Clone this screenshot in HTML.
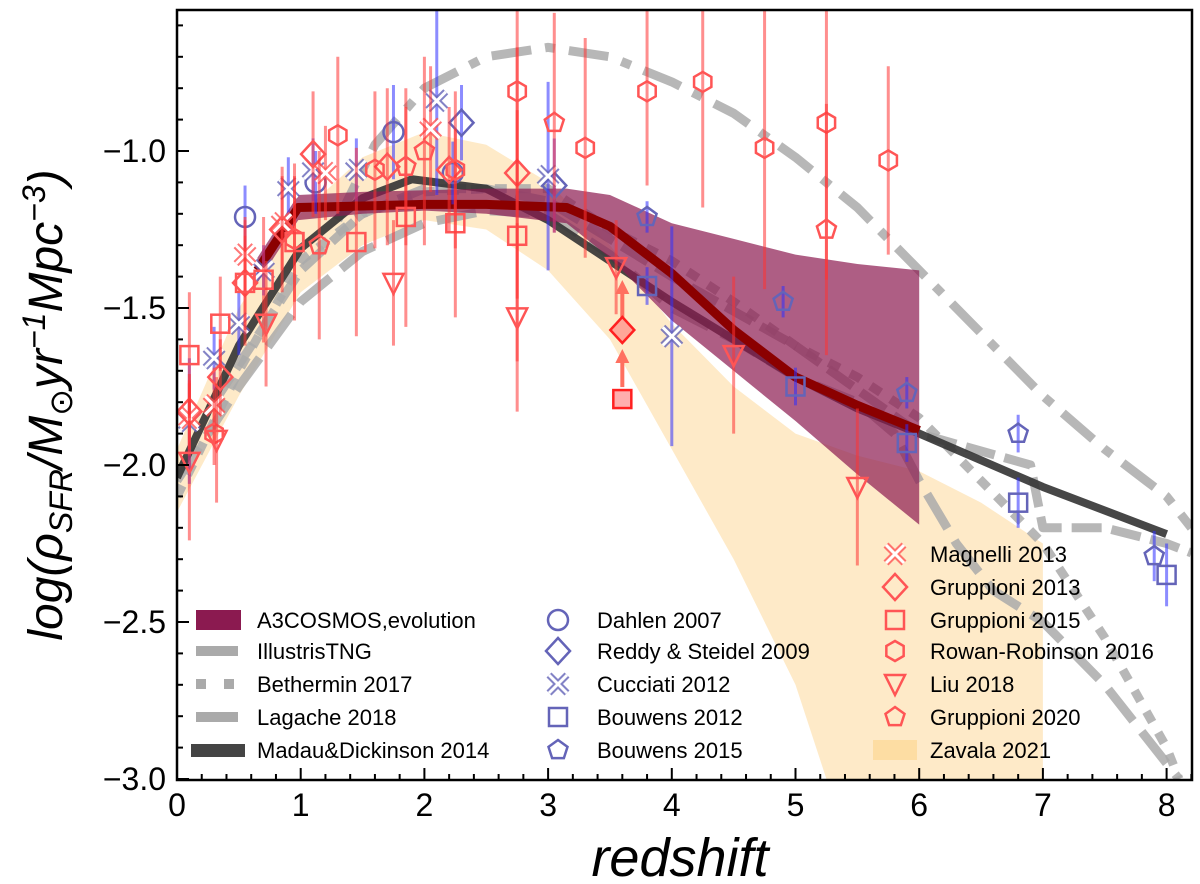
<!DOCTYPE html>
<html><head><meta charset="utf-8"><style>
body{margin:0;background:#fff;width:1200px;height:884px;overflow:hidden}
svg{display:block;font-family:"Liberation Sans","DejaVu Sans",sans-serif}
</style></head><body>
<svg id="c" width="1200" height="884"></svg>
<script>
// ---- data ----
const xTicks=[0,1,2,3,4,5,6,7,8];
const yTicks=[-1.0,-1.5,-2.0,-2.5,-3.0];
const a3Z=[0.65,0.98,1.5,2,2.5,3.15,3.5,4,4.5,5,5.5,6];
const a3V=[-1.38,-1.18,-1.175,-1.17,-1.17,-1.18,-1.24,-1.39,-1.57,-1.72,-1.81,-1.89];
const a3Up=[-1.34,-1.14,-1.13,-1.125,-1.12,-1.12,-1.14,-1.23,-1.28,-1.33,-1.36,-1.38];
const a3Lo=[-1.42,-1.22,-1.2,-1.19,-1.2,-1.23,-1.34,-1.54,-1.7,-1.86,-2.03,-2.19];
const mdZ=[0,0.5,1,1.5,1.9,2.5,3,3.5,4,4.5,5,5.5,6,7,8];
const mdV=[-2.04,-1.62,-1.31,-1.15,-1.09,-1.12,-1.22,-1.35,-1.48,-1.6,-1.72,-1.82,-1.9,-2.07,-2.22];
const zavZ=[0,0.5,1,1.5,2,2.5,3,3.5,4,4.5,5,5.5,6,6.5,7];
const zavUp=[-1.95,-1.5,-1.2,-1.02,-0.94,-0.98,-1.1,-1.3,-1.55,-1.75,-1.9,-1.97,-2.02,-2.12,-2.25];
const zavLoZ=[0,0.5,1,1.5,2,2.5,3,3.5,4,4.5,5,5.25];
const zavLo=[-2.15,-1.78,-1.45,-1.3,-1.22,-1.25,-1.38,-1.6,-1.95,-2.3,-2.7,-3.0];
const tngZ=[0,0.5,1,1.5,2,2.5,3,3.5,4,4.5,5,5.5,5.8,6,6.3,6.6,7,7.5,8,8.1];
const tngV=[-2.05,-1.75,-1.48,-1.32,-1.23,-1.19,-1.2,-1.33,-1.5,-1.6,-1.72,-1.8,-1.9,-2.05,-2.25,-2.4,-2.5,-2.7,-2.95,-3.0];
const betZ=[0,0.5,1,1.5,2,2.5,3,3.5,4,4.5,5,5.5,6,6.5,7,7.5,8,8.1];
const betV=[-2.1,-1.7,-1.35,-1.2,-1.13,-1.12,-1.12,-1.25,-1.35,-1.48,-1.62,-1.72,-1.85,-2.05,-2.25,-2.55,-2.9,-3.0];
const lagZ=[0.3,1,1.5,2,2.5,3,4,5,6,6.9,7,7.5,8,8.2];
const lagV=[-1.8,-1.38,-1.2,-1.12,-1.12,-1.16,-1.4,-1.62,-1.9,-2.0,-2.2,-2.2,-2.25,-2.28];
const ddZ=[1.3,1.6,2,2.5,3,3.5,4,4.5,5,5.5,6,6.5,7,7.5,8,8.2];
const ddV=[-1.22,-0.98,-0.8,-0.7,-0.67,-0.7,-0.78,-0.88,-1.02,-1.18,-1.38,-1.58,-1.78,-1.95,-2.1,-2.2];
// points: z, value, error
const dahZ=[0.55,1.12,1.75,2.23], dahV=[-1.21,-1.1,-0.94,-1.07], dahE=[0.1,0.1,0.15,0.1];
const redZ=[2.3,3.05], redV=[-0.91,-1.11], redE=[0.12,0.15];
const cucZ=[0.1,0.3,0.5,0.7,0.9,1.1,1.45,2.1,3.0,4.0], cucV=[-1.86,-1.66,-1.55,-1.38,-1.12,-1.06,-1.06,-0.84,-1.08,-1.59], cucE=[0.2,0.1,0.1,0.08,0.1,0.1,0.1,0.3,0.3,0.35];
const bw12Z=[3.8,5.0,5.9,6.8,8.0], bw12V=[-1.43,-1.75,-1.93,-2.12,-2.35], bw12E=[0.06,0.06,0.06,0.08,0.1];
const bw15Z=[3.8,4.9,5.9,6.8,7.9], bw15V=[-1.21,-1.48,-1.77,-1.9,-2.29], bw15E=[0.05,0.05,0.05,0.06,0.08];
const magZ=[0.1,0.3,0.55,0.85,1.2,2.05], magV=[-1.85,-1.81,-1.33,-1.23,-1.07,-0.93], magE=[0.12,0.12,0.12,0.15,0.15,0.2];
const g13Z=[0.1,0.35,0.55,0.85,1.1,1.7,2.2,2.75], g13V=[-1.83,-1.72,-1.42,-1.25,-1.01,-1.05,-1.06,-1.07], g13E=[0.12,0.12,0.15,0.2,0.2,0.25,0.2,0.4];
const g15Z=[0.1,0.35,0.55,0.7,0.95,1.45,1.85,2.25,2.75], g15V=[-1.65,-1.55,-1.42,-1.41,-1.29,-1.29,-1.21,-1.23,-1.27], g15E=[0.2,0.15,0.2,0.2,0.25,0.3,0.35,0.3,0.4];
const rrZ=[0.3,0.95,1.3,1.6,2.25,2.75,3.3,3.8,4.25,4.75,5.25,5.75], rrV=[-1.9,-1.28,-0.95,-1.06,-1.06,-0.81,-0.99,-0.81,-0.78,-0.99,-0.91,-1.03], rrE=[0.1,0.2,0.25,0.25,0.25,0.3,0.35,0.3,0.4,0.45,0.5,0.3];
const liuZ=[0.1,0.32,0.72,1.75,2.75,3.55,4.5,5.5], liuV=[-1.99,-1.92,-1.55,-1.42,-1.53,-1.37,-1.65,-2.07], liuE=[0.25,0.2,0.2,0.2,0.3,0.15,0.25,0.25];
const g20Z=[1.15,1.85,2.0,3.05,5.25], g20V=[-1.3,-1.05,-1.0,-0.91,-1.25], g20E=[0.3,0.25,0.3,0.35,0.4];
const limZ=[3.6,3.6], limV=[-1.57,-1.79];
// ---- axes ----
const X=z=>177+123.7*z, Y=v=>151-(v+1)*314;
const NS='http://www.w3.org/2000/svg', svg=document.getElementById('c');
function el(t,a,p){const e=document.createElementNS(NS,t);for(const k in a)e.setAttribute(k,a[k]);(p||svg).appendChild(e);return e;}
const defs=el('defs',{});const cp=el('clipPath',{id:'cl'},defs);el('rect',{x:177,y:10,width:1015,height:770},cp);
const g=el('g',{'clip-path':'url(#cl)'});

const pts=(zs,vs)=>zs.map((z,i)=>X(z)+','+Y(vs[i])).join(' ');
let e;
e=el('polygon',{points:pts(zavZ,zavUp)+' '+X(7)+','+Y(-3.1)+' '+pts(zavLoZ.slice().reverse(),zavLo.slice().reverse()),fill:'#fde3b5',opacity:0.75},g);

function line(zs,vs,st,name){const l=el('polyline',Object.assign({points:pts(zs,vs),fill:'none','stroke-linejoin':'round'},st),g);}
line(ddZ,ddV,{stroke:'#aaa','stroke-width':9,'stroke-dasharray':'40 14 10 14',opacity:0.85},'dash-dot-model-curve');
line(tngZ,tngV,{stroke:'#aaa','stroke-width':9,'stroke-dasharray':'40 14',opacity:0.85},'illustris-tng-curve');
line(betZ,betV,{stroke:'#aaa','stroke-width':9,'stroke-dasharray':'12 12',opacity:0.85},'bethermin-2017-curve');
line(lagZ,lagV,{stroke:'#aaa','stroke-width':9,'stroke-dasharray':'30 10',opacity:0.85},'lagache-2018-curve');
line(mdZ,mdV,{stroke:'#333','stroke-width':8,opacity:0.9},'madau-dickinson-curve');
e=el('polygon',{points:pts(a3Z,a3Up)+' '+pts(a3Z.slice().reverse(),a3Lo.slice().reverse()),fill:'#8b1a50',opacity:0.7},g);

line(a3Z,a3V,{stroke:'#8b0000','stroke-width':9},'a3cosmos-evolution-line');
function marker(type,x,y,col,parent,fill){const r=10;let s;
 if(type==='circle')s=el('circle',{cx:x,cy:y,r:r},parent);
 else if(type==='diamond')s=el('polygon',{points:`${x},${y-13} ${x+12},${y} ${x},${y+13} ${x-12},${y}`},parent);
 else if(type==='square')s=el('rect',{x:x-9,y:y-9,width:18,height:18},parent);
 else if(type==='hex'){let p=[];for(let k=0;k<6;k++){const a=Math.PI/3*k;p.push((x+10*Math.sin(a))+','+(y-10*Math.cos(a)));}s=el('polygon',{points:p.join(' ')},parent);}
 else if(type==='pent'){let p=[];for(let k=0;k<5;k++){const a=2*Math.PI/5*k;p.push((x+10*Math.sin(a))+','+(y-10*Math.cos(a)));}s=el('polygon',{points:p.join(' ')},parent);}
 else if(type==='tri')s=el('polygon',{points:`${x-10},${y-9} ${x+10},${y-9} ${x},${y+11}`},parent);
 else if(type==='cross'){s=el('path',{d:`M${x-9},${y-9}L${x+9},${y+9}M${x+9},${y-9}L${x-9},${y+9}`,'stroke-width':7},parent);s.setAttribute('stroke',col);s.setAttribute('fill','none');s.setAttribute('opacity',0.8);
   el('path',{d:`M${x-9},${y-9}L${x+9},${y+9}M${x+9},${y-9}L${x-9},${y+9}`,'stroke-width':3,stroke:'#fff'},parent);return s;}
 s.setAttribute('fill',fill||'none');s.setAttribute('stroke',col);s.setAttribute('stroke-width',2.5);return s;}
function series(zs,vs,es,type,mcol,ecol,name){const gg=el('g',{},g);
 zs.forEach((z,i)=>{const x=X(z);el('line',{x1:x,x2:x,y1:Y(vs[i]-es[i]),y2:Y(vs[i]+es[i]),stroke:ecol,'stroke-width':3,opacity:0.55},gg);
 const m=marker(type,x,Y(vs[i]),mcol,gg);});}
const B='#6464b8',BE='#3030ff',R='#ff5555',RE='#ff3333';
series(dahZ,dahV,dahE,'circle',B,BE,'dahlen-2007');
series(redZ,redV,redE,'diamond',B,BE,'reddy-steidel-2009');
series(cucZ,cucV,cucE,'cross',B,BE,'cucciati-2012');
series(bw12Z,bw12V,bw12E,'square',B,BE,'bouwens-2012');
series(bw15Z,bw15V,bw15E,'pent',B,BE,'bouwens-2015');
series(magZ,magV,magE,'cross',R,RE,'magnelli-2013');
series(g13Z,g13V,g13E,'diamond',R,RE,'gruppioni-2013');
series(g15Z,g15V,g15E,'square',R,RE,'gruppioni-2015');
series(rrZ,rrV,rrE,'hex',R,RE,'rowan-robinson-2016');
series(liuZ,liuV,liuE,'tri',R,RE,'liu-2018');
series(g20Z,g20V,g20E,'pent',R,RE,'gruppioni-2020');
limZ.forEach((z,i)=>{const x=X(z),y=Y(limV[i]);const lg=el('g',{},g);
 
 el('line',{x1:x,x2:x,y1:y-12,y2:y-42,stroke:'#ff7060','stroke-width':4},lg);
 el('polygon',{points:`${x-7},${y-36} ${x+7},${y-36} ${x},${y-50}`,fill:'#ff7060'},lg);
 marker(i===0?'diamond':'square',x,y,'#ff2020',lg,'rgba(255,120,120,0.6)');});
// frame & ticks
e=el('rect',{x:177,y:10,width:1015,height:770,fill:'none',stroke:'#000','stroke-width':2.5});

for(let k=0;k<=41;k++){const z=k*0.2,x=X(z);if(x>1192)break;const maj=k%5===0;el('line',{x1:x,x2:x,y1:780,y2:780-(maj?12:6),stroke:'#000','stroke-width':2});}
for(let k=0;k<=25;k++){const v=-3+k*0.1,y=Y(v);if(y<10)break;const maj=k%5===0;el('line',{x1:177,x2:177+(maj?12:6),y1:y,y2:y,stroke:'#000','stroke-width':2});}
xTicks.forEach(t=>{const tx=el('text',{x:X(t),y:816,'font-size':32,'text-anchor':'middle'});tx.textContent=t;});
yTicks.forEach(t=>{const tx=el('text',{x:166,y:Y(t)+11,'font-size':32,'text-anchor':'end'});tx.textContent=t.toFixed(1).replace('-','\u2212');});
// legend
const L1=[['A3COSMOS,evolution','patch','#8b1a50'],['IllustrisTNG','ln',''],['Bethermin 2017','dot',''],['Lagache 2018','ln',''],['Madau&Dickinson 2014','dark','']];
const L2=[['Dahlen 2007','circle'],['Reddy & Steidel 2009','diamond'],['Cucciati 2012','cross'],['Bouwens 2012','square'],['Bouwens 2015','pent']];
const L3=[['Magnelli 2013','cross'],['Gruppioni 2013','diamond'],['Gruppioni 2015','square'],['Rowan-Robinson 2016','hex'],['Liu 2018','tri'],['Gruppioni 2020','pent'],['Zavala 2021','zav']];
const rows=[620,651,684,717,750];
L1.forEach((r,i)=>{const y=rows[i];const gg=el('g',{});
 if(r[1]==='patch')el('rect',{x:196,y:y-10,width:45,height:20,fill:r[2]},gg);
 else if(r[1]==='ln')el('rect',{x:196,y:y-5,width:42,height:10,fill:'#aaa'},gg);
 else if(r[1]==='dot'){el('rect',{x:196,y:y-5,width:10,height:10,fill:'#aaa'},gg);el('rect',{x:224,y:y-5,width:10,height:10,fill:'#aaa'},gg);}
 else el('rect',{x:191,y:y-6,width:54,height:13,fill:'#444'},gg);
 const t=el('text',{x:257,y:y+8,'font-size':22},gg);t.textContent=r[0];});
L2.forEach((r,i)=>{const y=rows[i];const gg=el('g',{});
 marker(r[1],558,y,B,gg);const t=el('text',{x:597,y:y+8,'font-size':22},gg);t.textContent=r[0];});
const rows3=[554,587,620,651,684,717,750];
L3.forEach((r,i)=>{const y=rows3[i];const gg=el('g',{});
 if(r[1]==='zav')el('rect',{x:873,y:y-10,width:44,height:20,fill:'#fdd99a',opacity:0.8},gg);else marker(r[1],895,y,R,gg);
 const t=el('text',{x:930,y:y+8,'font-size':22},gg);t.textContent=r[0];});
// axis titles
e=el('text',{x:680,y:876,'font-size':54,'font-style':'italic','text-anchor':'middle'});e.textContent='redshift';

e=el('text',{x:0,y:0,'font-size':48,'font-style':'italic','text-anchor':'middle',transform:'translate(62,405) rotate(-90)'});
e.innerHTML='log(ρ<tspan font-size="32" dy="10">SFR</tspan><tspan dy="-10">/M</tspan><tspan font-size="32" dy="10">⊙</tspan><tspan dy="-10">yr</tspan><tspan font-size="32" dy="-17">−1</tspan><tspan dy="17">Mpc</tspan><tspan font-size="32" dy="-17">−3</tspan><tspan dy="17">)</tspan>';

</script>
</body></html>
